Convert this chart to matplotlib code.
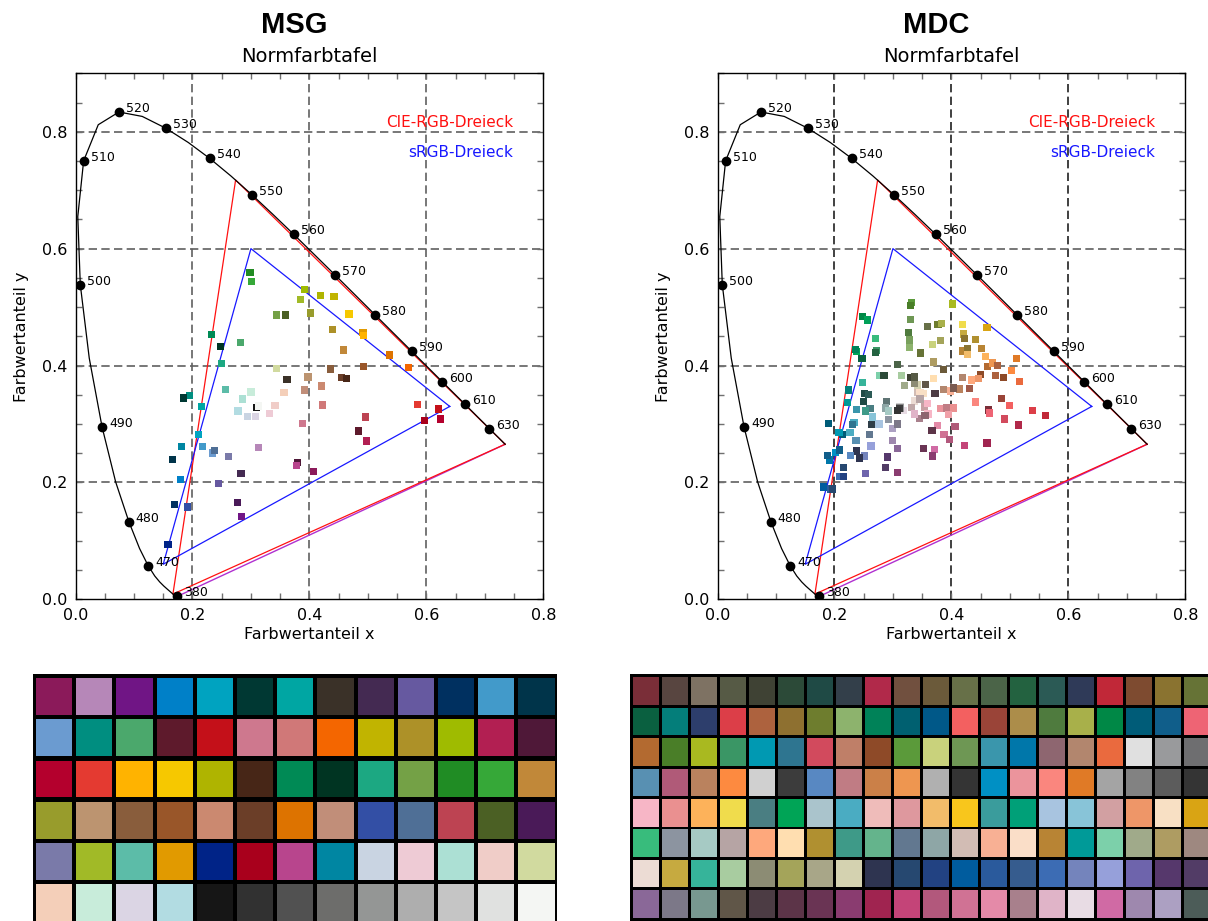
import numpy as np
import matplotlib.pyplot as plt
from matplotlib import font_manager
from matplotlib.patches import Rectangle
from matplotlib.ticker import MultipleLocator

W, H = 1208, 921

# CIE 1931 2-degree spectral locus, 5 nm steps
wl = list(range(380, 705, 5))
loc_x = [0.1741, 0.1740, 0.1738, 0.1736, 0.1733, 0.1730, 0.1726, 0.1721, 0.1714, 0.1703,
         0.1689, 0.1669, 0.1644, 0.1611, 0.1566, 0.1510, 0.1440, 0.1355, 0.1241, 0.1096,
         0.0913, 0.0687, 0.0454, 0.0235, 0.0082, 0.0039, 0.0139, 0.0389, 0.0743, 0.1142,
         0.1547, 0.1929, 0.2296, 0.2658, 0.3016, 0.3373, 0.3731, 0.4087, 0.4441, 0.4788,
         0.5125, 0.5448, 0.5752, 0.6029, 0.6270, 0.6482, 0.6658, 0.6801, 0.6915, 0.7006,
         0.7079, 0.7140, 0.7190, 0.7230, 0.7260, 0.7283, 0.7300, 0.7311, 0.7320, 0.7327,
         0.7334, 0.7340, 0.7344, 0.7346, 0.7347]
loc_y = [0.0050, 0.0050, 0.0049, 0.0049, 0.0048, 0.0048, 0.0048, 0.0048, 0.0051, 0.0058,
         0.0069, 0.0086, 0.0109, 0.0138, 0.0177, 0.0227, 0.0297, 0.0399, 0.0578, 0.0868,
         0.1327, 0.2007, 0.2950, 0.4127, 0.5384, 0.6548, 0.7502, 0.8120, 0.8338, 0.8262,
         0.8059, 0.7816, 0.7543, 0.7243, 0.6923, 0.6589, 0.6245, 0.5896, 0.5547, 0.5202,
         0.4866, 0.4544, 0.4242, 0.3965, 0.3725, 0.3514, 0.3340, 0.3197, 0.3083, 0.2993,
         0.2920, 0.2859, 0.2809, 0.2770, 0.2740, 0.2717, 0.2700, 0.2689, 0.2680, 0.2673,
         0.2666, 0.2660, 0.2656, 0.2654, 0.2653]
marked_wl = [380, 470, 480, 490, 500, 510, 520, 530, 540, 550, 560, 570, 580, 590, 600, 610, 630]

cie_rgb_x = [0.7347, 0.2738, 0.1666]
cie_rgb_y = [0.2653, 0.7174, 0.0089]
srgb_x = [0.64, 0.30, 0.15]
srgb_y = [0.33, 0.60, 0.06]

# chromaticities of the chart patches (x, y, colour)
msg_points = [
    (0.2985, 0.5587, '#228B22'), (0.3008, 0.5440, '#36A838'), (0.3914, 0.5303, '#9FBB00'),
    (0.3846, 0.5132, '#A1BA27'), (0.4188, 0.5200, '#AFB400'), (0.4422, 0.5183, '#C1B400'),
    (0.3435, 0.4863, '#74A146'), (0.3589, 0.4863, '#4B6024'), (0.4017, 0.4897, '#989C2C'),
    (0.4678, 0.4880, '#F6C800'), (0.4393, 0.4618, '#AD9128'), (0.4918, 0.4567, '#E19A00'),
    (0.4923, 0.4509, '#FFB300'), (0.4581, 0.4264, '#C18839'), (0.5368, 0.4179, '#DD7300'),
    (0.5693, 0.3968, '#F46600'), (0.4923, 0.3986, '#995629'), (0.4359, 0.3939, '#895D3C'),
    (0.4553, 0.3797, '#6B3E28'), (0.4639, 0.3780, '#472617'), (0.3977, 0.3803, '#BC9470'),
    (0.3914, 0.3580, '#C18E79'), (0.4205, 0.3649, '#CB8970'), (0.4222, 0.3324, '#D07878'),
    (0.3880, 0.3010, '#CE788E'), (0.4957, 0.3118, '#BD4352'), (0.4838, 0.2879, '#5E1A2C'),
    (0.4975, 0.2708, '#B21F52'), (0.5847, 0.3335, '#E43A31'), (0.6206, 0.3255, '#C41019'),
    (0.6240, 0.3084, '#B4002D'), (0.5967, 0.3062, '#A9001C'), (0.3435, 0.3951, '#D1DA9F'),
    (0.3618, 0.3763, '#3A3128'), (0.3567, 0.3541, '#F4CFB9'), (0.3413, 0.3318, '#F0CDC8'),
    (0.3316, 0.3182, '#EECBD5'), (0.3002, 0.3546, '#C8ECDA'), (0.2854, 0.3426, '#ACE0D4'),
    (0.2780, 0.3221, '#B2DCE2'), (0.2939, 0.3130, '#C9D4E2'), (0.3082, 0.3130, '#DBD5E4'),
    (0.3100, 0.3283, '#161616'), (0.3127, 0.3307, '#313131'), (0.3127, 0.3307, '#515151'),
    (0.3127, 0.3307, '#6D6D6B'), (0.3127, 0.3307, '#949695'), (0.3127, 0.3307, '#AEAEAE'),
    (0.3127, 0.3307, '#C5C5C5'), (0.3127, 0.3307, '#E0E1E0'), (0.3127, 0.3307, '#F4F6F3'),
    (0.2569, 0.3592, '#5CBCA8'), (0.2819, 0.4396, '#4BA86C'), (0.2494, 0.4037, '#1CA882'),
    (0.2477, 0.4328, '#003422'), (0.2323, 0.4533, '#008A55'), (0.2152, 0.3301, '#00A6A3'),
    (0.1947, 0.3490, '#008E80'), (0.1844, 0.3443, '#003833'), (0.2101, 0.2822, '#00A3C0'),
    (0.2169, 0.2617, '#429ACA'), (0.2340, 0.2503, '#6B9BD0'), (0.2374, 0.2549, '#4F6F96'),
    (0.2614, 0.2446, '#7A7AA9'), (0.3127, 0.2600, '#B687B8'), (0.1810, 0.2617, '#0086A2'),
    (0.1656, 0.2395, '#00344A'), (0.1793, 0.2053, '#0080C8'), (0.2831, 0.2155, '#442A52'),
    (0.2443, 0.1984, '#6659A0'), (0.3794, 0.2337, '#4F1838'), (0.3777, 0.2292, '#B8458D'),
    (0.4068, 0.2190, '#8B1A5A'), (0.1690, 0.1625, '#003060'), (0.1919, 0.1579, '#334FA5'),
    (0.2768, 0.1659, '#4A1A58'), (0.2836, 0.1420, '#701585'), (0.1582, 0.0940, '#002387'),
]

mdc_points = [
    (0.3315, 0.5080, '#5B9A3A'), (0.3298, 0.5030, '#4A7E28'), (0.3298, 0.4790, '#6E9754'),
    (0.3264, 0.4567, '#4F7B3E'), (0.3281, 0.4436, '#78A05C'), (0.3281, 0.4311, '#8DB36D'),
    (0.3589, 0.4670, '#677048'), (0.3772, 0.4704, '#6E7D2E'), (0.3828, 0.4721, '#A8B04A'),
    (0.4023, 0.5051, '#A9B920'), (0.3469, 0.4213, '#667336'), (0.3674, 0.4362, '#C9D27C'),
    (0.3811, 0.4430, '#A4A45A'), (0.3691, 0.4059, '#AE9C62'), (0.3863, 0.3934, '#6B5A3A'),
    (0.3076, 0.4020, '#4B6448'), (0.4188, 0.4704, '#F0DC4C'), (0.4205, 0.4538, '#C6AA40'),
    (0.4229, 0.4458, '#8A7330'), (0.4410, 0.4448, '#B09030'), (0.4610, 0.4653, '#D9A414'),
    (0.4188, 0.4247, '#B88434'), (0.4273, 0.4294, '#8A7330'), (0.4273, 0.4191, '#F2BC6A'),
    (0.4513, 0.4294, '#B88434'), (0.4581, 0.4157, '#FDB25A'), (0.4622, 0.3986, '#B36A30'),
    (0.4701, 0.4042, '#EE9650'), (0.4793, 0.4003, '#AD623E'), (0.5111, 0.4123, '#E07A26'),
    (0.5026, 0.3917, '#FD8A40'), (0.5163, 0.3729, '#EA6A3E'), (0.4752, 0.3825, '#AD623E'),
    (0.4889, 0.3791, '#8E4A28'), (0.4495, 0.3849, '#8E4A28'), (0.4468, 0.3780, '#EE9668'),
    (0.4342, 0.3751, '#FEA87C'), (0.4194, 0.3798, '#B2866E'), (0.4307, 0.3609, '#A05A4A'),
    (0.4143, 0.3597, '#BA825E'), (0.3989, 0.3563, '#F8B094'), (0.3863, 0.3592, '#B2866E'),
    (0.4034, 0.3615, '#7A5A50'), (0.4855, 0.3438, '#9A4438'), (0.4417, 0.3375, '#FA867E'),
    (0.4992, 0.3319, '#F36060'), (0.4639, 0.3238, '#7A2E38'), (0.4650, 0.3187, '#EE6474'),
    (0.4913, 0.3084, '#D24A5D'), (0.5146, 0.2982, '#B1294A'), (0.5385, 0.3233, '#DC3E48'),
    (0.5607, 0.3148, '#C12838'), (0.4063, 0.2959, '#B05A78'), (0.3811, 0.3267, '#EB949C'),
    (0.3921, 0.3272, '#C07C84'), (0.4034, 0.3272, '#EA9090'), (0.3948, 0.3165, '#F0A0A8'),
    (0.3760, 0.2976, '#E48AA8'), (0.3875, 0.2823, '#D07294'), (0.3965, 0.2730, '#B2587C'),
    (0.4222, 0.2634, '#C44478'), (0.4610, 0.2674, '#A02450'), (0.3669, 0.2891, '#5C3448'),
    (0.3527, 0.2583, '#6A3454'), (0.3709, 0.2566, '#D06AA4'), (0.3674, 0.2451, '#8A3C70'),
    (0.3721, 0.3524, '#4C3C44'), (0.3555, 0.3678, '#605648'), (0.3698, 0.3780, '#FFDEB0'),
    (0.3425, 0.3666, '#D4D2B0'), (0.3366, 0.3695, '#8C8C74'), (0.3305, 0.3798, '#3F4234'),
    (0.3373, 0.3803, '#565A45'), (0.3144, 0.3825, '#A8CCA0'), (0.3195, 0.3661, '#A0AA8A'),
    (0.3418, 0.3534, '#D2BCB4'), (0.3464, 0.3534, '#FADEC8'), (0.3520, 0.3524, '#F8E0C4'),
    (0.3366, 0.3392, '#ECDCD4'), (0.3464, 0.3426, '#B6A4A4'), (0.3322, 0.3284, '#C0A8A8'),
    (0.3538, 0.3290, '#C8A0A4'), (0.3596, 0.3346, '#F7B6C6'), (0.3601, 0.3170, '#F7B6C6'),
    (0.3459, 0.3096, '#A8808C'), (0.3373, 0.3170, '#E0B4C8'), (0.3550, 0.3141, '#8E6670'),
    (0.3178, 0.3233, '#E8DCE4'), (0.3130, 0.3300, '#E0E0E0'), (0.3120, 0.3290, '#D0D0D0'),
    (0.3125, 0.3285, '#B0B0B0'), (0.3118, 0.3280, '#A4A4A4'), (0.3122, 0.3275, '#999A9C'),
    (0.3115, 0.3272, '#828282'), (0.3112, 0.3268, '#6E6E70'), (0.3108, 0.3262, '#5C5C5C'),
    (0.3110, 0.3267, '#3C3C3C'), (0.3076, 0.3226, '#343434'), (0.2894, 0.3380, '#5E7474'),
    (0.2870, 0.3272, '#8EA6A6'), (0.2922, 0.3221, '#A6CAC4'), (0.2922, 0.3072, '#8C94A0'),
    (0.2990, 0.2925, '#ACA0C2'), (0.3076, 0.2999, '#7C7888'), (0.2990, 0.2720, '#9E88AE'),
    (0.3076, 0.2583, '#8A6898'), (0.2905, 0.2434, '#56386C'), (0.2870, 0.2258, '#523C66'),
    (0.3076, 0.2172, '#8A3C70'), (0.2528, 0.2155, '#6E64AC'), (0.2626, 0.2622, '#96A0DA'),
    (0.2597, 0.2823, '#627890'), (0.2511, 0.2451, '#7484BC'), (0.2426, 0.2417, '#2E3450'),
    (0.2381, 0.2537, '#2E3450'), (0.2272, 0.2463, '#5888C2'), (0.2369, 0.2720, '#5890B2'),
    (0.2631, 0.2994, '#2E3E48'), (0.2763, 0.2999, '#A8C4E0'), (0.2648, 0.3118, '#88C4D8'),
    (0.2609, 0.3260, '#4A7E82'), (0.2535, 0.3221, '#3E9A88'), (0.2497, 0.3380, '#1F4A45'),
    (0.2381, 0.3243, '#3A96AC'), (0.2335, 0.3028, '#4AACC2'), (0.2306, 0.2994, '#2E7590'),
    (0.2267, 0.2850, '#4AACC2'), (0.2142, 0.2816, '#005C78'), (0.2078, 0.2850, '#0099B2'),
    (0.1895, 0.3011, '#005C78'), (0.2227, 0.3363, '#009A98'), (0.2244, 0.3580, '#047E7A'),
    (0.2511, 0.3524, '#1F4A45'), (0.2586, 0.3507, '#2B5A55'), (0.2477, 0.3712, '#36B49A'),
    (0.2780, 0.3825, '#7CD0AA'), (0.2848, 0.3825, '#2C4A38'), (0.2472, 0.4116, '#0A6040'),
    (0.2381, 0.4242, '#00A456'), (0.2364, 0.4277, '#008258'), (0.2716, 0.4253, '#3A9665'),
    (0.2699, 0.4218, '#236240'), (0.2699, 0.4465, '#38BC7C'), (0.2484, 0.4834, '#008846'),
    (0.2569, 0.4778, '#00A058'), (0.1912, 0.2383, '#0077AA'), (0.1885, 0.2456, '#105E8A'),
    (0.2015, 0.2515, '#0090C4'), (0.2084, 0.2554, '#105E8A'), (0.2152, 0.2251, '#264870'),
    (0.2083, 0.2104, '#3C6CB4'), (0.2152, 0.2097, '#224282'), (0.1817, 0.1921, '#005C9E'),
    (0.1942, 0.1887, '#2A5A9C'), (0.1971, 0.1887, '#264870'),
]

# patch colours of the two charts, row by row
msg_rows = [
    ['#8B1A5A', '#B687B8', '#701585', '#0080C8', '#00A3C0', '#003833', '#00A6A3', '#3A3128', '#442A52', '#6659A0', '#003060', '#429ACA', '#00344A'],
    ['#6B9BD0', '#008E80', '#4BA86C', '#5E1A2C', '#C41019', '#CE788E', '#D07878', '#F46600', '#C1B400', '#AD9128', '#9FBB00', '#B21F52', '#4F1838'],
    ['#B4002D', '#E43A31', '#FFB300', '#F6C800', '#AFB400', '#472617', '#008A55', '#003422', '#1CA882', '#74A146', '#208C24', '#36A838', '#C18839'],
    ['#989C2C', '#BC9470', '#895D3C', '#995629', '#CB8970', '#6B3E28', '#DD7300', '#C18E79', '#334FA5', '#4F6F96', '#BD4352', '#4B6024', '#4A1A58'],
    ['#7A7AA9', '#A1BA27', '#5CBCA8', '#E19A00', '#002387', '#A9001C', '#B8458D', '#0086A2', '#C9D4E2', '#EECBD5', '#ACE0D4', '#F0CDC8', '#D1DA9F'],
    ['#F4CFB9', '#C8ECDA', '#DBD5E4', '#B2DCE2', '#161616', '#313131', '#515151', '#6D6D6B', '#949695', '#AEAEAE', '#C5C5C5', '#E0E1E0', '#F4F6F3'],
]
mdc_rows = [
    ['#7A2E38', '#584540', '#7E7263', '#565A45', '#3F4234', '#2C4A38', '#1F4A45', '#333F4A', '#B1294A', '#71503F',
     '#6B5A3A', '#677048', '#4B6448', '#236240', '#2B5A55', '#2F3A58', '#C12838', '#7E4B30', '#8A7330', '#667336'],
    ['#0A6040', '#047E7A', '#2D3E6C', '#DC3E48', '#AD623E', '#8E7030', '#6E7D2E', '#8DB36D', '#008258', '#006070',
     '#005888', '#F36060', '#9A4438', '#AC8D4A', '#4F7B3E', '#A8B04A', '#008846', '#005C78', '#105E8A', '#EE6474'],
    ['#B36A30', '#4A7E28', '#A9B920', '#3A9665', '#0099B2', '#2E7590', '#D24A5D', '#BF7F68', '#8E4A28', '#5B9A3A',
     '#C9D27C', '#6E9754', '#3A96AC', '#0077AA', '#8E6670', '#B2866E', '#EA6A3E', '#E0E0E0', '#999A9C', '#6E6E70'],
    ['#5890B2', '#B05A78', '#BA825E', '#FD8A40', '#D0D0D0', '#3C3C3C', '#5888C2', '#C07C84', '#CB8048', '#EE9650',
     '#B0B0B0', '#343434', '#0090C4', '#EB949C', '#FA867E', '#E07A26', '#A4A4A4', '#828282', '#5C5C5C', '#343434'],
    ['#F7B6C6', '#EA9090', '#FDB25A', '#F0DC4C', '#4A7E82', '#00A456', '#AAC4CC', '#4AACC2', '#EFBCBA', '#DE989E',
     '#F2BC6A', '#F8C61C', '#3A9C9C', '#00A078', '#A8C4E0', '#88C4D8', '#D2A0A2', '#EE9668', '#F8E0C4', '#D9A414'],
    ['#38BC7C', '#8C94A0', '#A6CAC4', '#B6A4A4', '#FEA87C', '#FFDEB0', '#B09030', '#3E9A88', '#64B48C', '#627890',
     '#8EA6A6', '#D2BCB4', '#F8B094', '#FADEC8', '#B88434', '#009A98', '#7CD0AA', '#A0AA8A', '#AE9C62', '#9E8880'],
    ['#ECDCD4', '#C6AA40', '#36B49A', '#A8CCA0', '#8C8C74', '#A4A45A', '#A8A688', '#D4D2B0', '#2E3450', '#264870',
     '#224282', '#005C9E', '#2A5A9C', '#365C8E', '#3C6CB4', '#7484BC', '#96A0DA', '#6E64AC', '#56386C', '#523C66'],
    ['#8A6898', '#7C7888', '#789890', '#605648', '#4C3C44', '#5C3448', '#6A3454', '#8A3C70', '#A02450', '#C44478',
     '#B2587C', '#D07294', '#E48AA8', '#A8808C', '#E0B4C8', '#E8DCE4', '#D06AA4', '#9E88AE', '#ACA0C2', '#4C5C58'],
]

plt.rcParams['font.family'] = ['DejaVu Sans']

# a narrow bold face for the headings, if one is around
installed = {f.name for f in font_manager.fontManager.ttflist}
if 'Liberation Sans Narrow' in installed:
    head_font = dict(family=['Liberation Sans Narrow', 'DejaVu Sans'], fontsize=22)
elif 'DejaVu Sans Condensed' in installed:
    head_font = dict(family=['DejaVu Sans Condensed', 'DejaVu Sans'], fontsize=20)
else:
    head_font = dict(family=['Liberation Sans', 'DejaVu Sans'], fontsize=21)

fig = plt.figure(figsize=(W / 100, H / 100), dpi=100)


def px_axes(x0, y0, x1, y1):
    return fig.add_axes([x0 / W, 1 - y1 / H, (x1 - x0) / W, (y1 - y0) / H])


def chromaticity(ax, points, name, vgrid_color):
    ax.set_xlim(0, 0.8)
    ax.set_ylim(0, 0.9)
    dash = (0, (5, 2.6))
    for v in (0.2, 0.4, 0.6):
        ax.axvline(v, color=vgrid_color, ls=dash, lw=1.2, zorder=0)
    for h in (0.2, 0.4, 0.6, 0.8):
        ax.axhline(h, color='#606060', ls=dash, lw=1.2, zorder=0)

    ax.plot(loc_x, loc_y, color='black', lw=0.9, zorder=2)
    ax.plot([loc_x[-1], loc_x[0]], [loc_y[-1], loc_y[0]], color='#B030D0', lw=1.0, zorder=1)
    ax.plot(cie_rgb_x + cie_rgb_x[:1], cie_rgb_y + cie_rgb_y[:1], color='#FF1010', lw=0.9, zorder=1)
    ax.plot(srgb_x + srgb_x[:1], srgb_y + srgb_y[:1], color='#1818FF', lw=0.9, zorder=1)

    px = [p[0] for p in points]
    py = [p[1] for p in points]
    pc = [p[2] for p in points]
    ax.scatter(px, py, c=pc, marker='s', s=27, linewidths=0, zorder=3)

    for w in marked_wl:
        i = wl.index(w)
        ax.plot(loc_x[i], loc_y[i], 'o', color='black', ms=6, zorder=4)
        ax.annotate(str(w), (loc_x[i], loc_y[i]), xytext=(5, 2.5), textcoords='offset points',
                    fontsize=9, ha='left', va='center', zorder=5)

    ax.text(0.748, 0.8165, 'CIE-RGB-Dreieck', color='#FF1010', fontsize=11, ha='right', va='center')
    ax.text(0.748, 0.765, 'sRGB-Dreieck', color='#1818FF', fontsize=11, ha='right', va='center')

    ax.xaxis.set_major_locator(MultipleLocator(0.2))
    ax.yaxis.set_major_locator(MultipleLocator(0.2))
    ax.xaxis.set_minor_locator(MultipleLocator(0.05))
    ax.yaxis.set_minor_locator(MultipleLocator(0.05))
    ax.tick_params(which='both', direction='in', top=True, right=True, length=4.5,
                   width=1.0, color='#707070', labelsize=11.5, pad=6)
    for s in ax.spines.values():
        s.set_linewidth(1.0)
    ax.set_xlabel('Farbwertanteil x', fontsize=11.5, labelpad=3)
    ax.set_ylabel('Farbwertanteil y', fontsize=11.5, labelpad=9)

    bb = ax.get_position()
    cx = (bb.x0 + bb.x1) / 2
    fig.text(cx - 15 / W, 1 - 25 / H, name, fontweight='bold', ha='center', va='center',
             **head_font)
    fig.text(cx, 1 - 57 / H, 'Normfarbtafel', fontsize=14, ha='center', va='center')


def patch_grid(ax, rows, fill_x, fill_y, xlim, ylim):
    ax.set_facecolor('black')
    for r, row in enumerate(rows):
        for c, col in enumerate(row):
            ax.add_patch(Rectangle((c + (1 - fill_x) / 2, r + (1 - fill_y) / 2), fill_x, fill_y,
                                   facecolor=col, edgecolor='none'))
    ax.set_xlim(*xlim)
    ax.set_ylim(*ylim)
    ax.set_xticks([])
    ax.set_yticks([])
    for s in ax.spines.values():
        s.set_visible(False)


ax1 = px_axes(75.5, 73.3, 543.3, 599.3)
chromaticity(ax1, msg_points, 'MSG', '#606060')
ax2 = px_axes(717.5, 73.3, 1185.3, 599.3)
chromaticity(ax2, mdc_points, 'MDC', '#202020')

g1 = px_axes(33, 674, 557, H)
patch_grid(g1, msg_rows, 0.896, 0.889, (-0.025, 13.01), (5.94, -0.041))
g2 = px_axes(629.5, 674, W, H)
patch_grid(g2, mdc_rows, 0.872, 0.91, (-0.064, 19.88), (8.06, -0.064))

fig.savefig('out.png', dpi=100)
